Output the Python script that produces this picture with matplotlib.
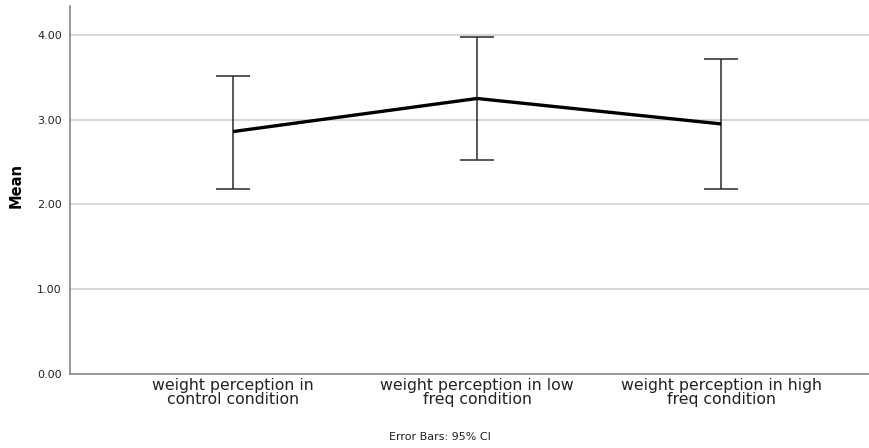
import matplotlib
matplotlib.use("Agg")
import matplotlib.pyplot as plt
import numpy as np

categories = ["weight perception in\ncontrol condition",
              "weight perception in low\nfreq condition",
              "weight perception in high\nfreq condition"]
means = [2.86, 3.25, 2.95]
ci_upper = [3.516, 3.98, 3.717]
ci_lower = [2.185, 2.527, 2.185]
yticks = [0.0, 1.0, 2.0, 3.0, 4.0]

fig = plt.figure(figsize=(8.7, 4.48), dpi=100)
ax = fig.add_axes([0.0805, 0.165, 0.9195, 0.8215])

x = np.arange(len(categories))
m = np.array(means)
yerr = np.vstack([m - np.array(ci_lower), np.array(ci_upper) - m])

for yv in yticks[1:]:
    ax.axhline(yv, color="#d0d0d0", lw=1.2, zorder=0)

ax.errorbar(x, m, yerr=yerr, fmt="none", ecolor="#2a2a2a", elinewidth=1.1,
            capsize=12.2, capthick=1.1, zorder=2)
ax.plot(x, m, color="black", lw=2.4, zorder=3, solid_capstyle="butt")

ax.set_xlim(-0.668, 2.61)
ax.set_ylim(0, 4.34)
ax.set_xticks(x)
ax.set_xticklabels(categories, fontsize=11.3, color="#222222", linespacing=0.9)
ax.set_yticks(yticks)
ax.set_yticklabels([f"{v:.2f}" for v in yticks], fontsize=8, color="#222222")
ax.tick_params(axis="both", length=0)
ax.tick_params(axis="x", pad=3)
ax.tick_params(axis="y", pad=6)
for s in ["top", "right"]:
    ax.spines[s].set_visible(False)
for s in ["left", "bottom"]:
    ax.spines[s].set_color("#888888")
    ax.spines[s].set_linewidth(1.2)

ax.set_ylabel("Mean", fontsize=10.5, fontweight="bold")
ax.yaxis.set_label_coords(-0.058, 0.513)
fig.text(440 / 870, 1 - 437 / 448, "Error Bars: 95% CI", fontsize=8,
         ha="center", va="center", color="#222222")

fig.savefig("out.png", dpi=100)
